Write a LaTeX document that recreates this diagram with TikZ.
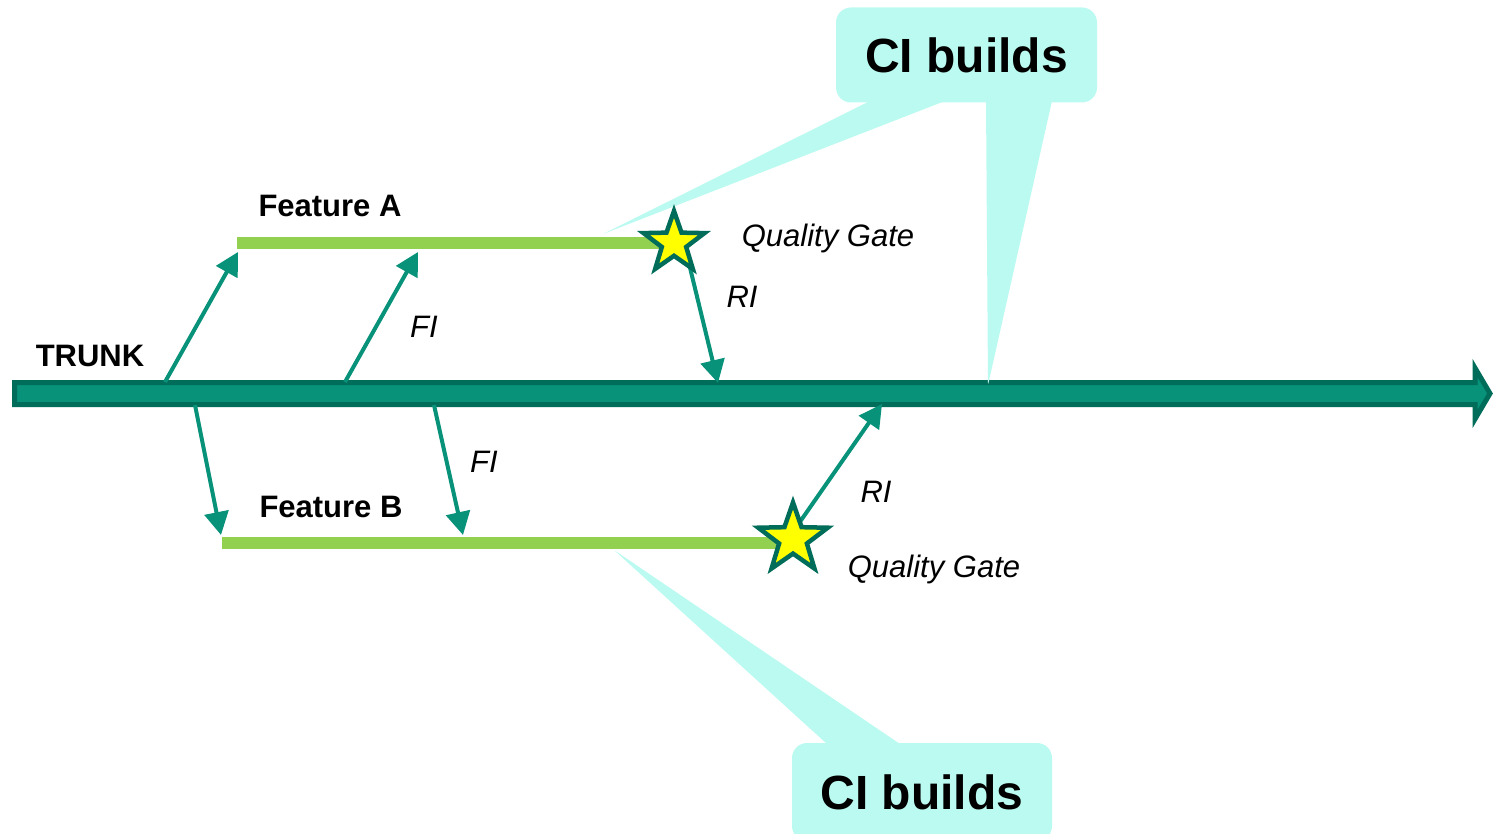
\documentclass[tikz,border=0pt]{standalone}
\usepackage{fontspec}
\setmainfont{Liberation Sans}
\usetikzlibrary{arrows.meta, shapes.geometric}
\definecolor{trunkdark}{RGB}{0,108,90}
\definecolor{trunkfill}{RGB}{8,146,122}
\definecolor{featgreen}{RGB}{146,208,80}
\definecolor{cicyan}{RGB}{187,250,240}
\definecolor{gateyellow}{RGB}{255,255,0}
\pgfdeclarelayer{front}
\pgfsetlayers{main,front}

\tikzset{
  merge/.style={-{Triangle[length=23pt,width=24pt]}, line width=4pt, draw=trunkfill},
  feature/.style={line width=12pt, draw=featgreen},
  gate/.style={star, star points=5, star point ratio=2.5, inner sep=0pt,
    draw=trunkdark, fill=gateyellow, line width=4.5pt},
  cibox/.style={fill=cicyan, rounded corners=15pt, inner sep=0pt,
    font=\fontsize{48}{48}\selectfont\bfseries},
  lbl/.style={font=\fontsize{31}{31}\selectfont\bfseries, anchor=base, inner sep=0pt},
  ilbl/.style={font=\fontsize{31}{31}\selectfont\itshape, anchor=base, inner sep=0pt},
}

\begin{document}
\begin{tikzpicture}[x=1pt, y=-1pt]
  \useasboundingbox (0,0) rectangle (1493,834);

  % Trunk
  \filldraw[fill=trunkfill, draw=trunkdark, line width=5pt]
    (14.5,382.5) -- (1475,382.5) -- (1475,368) -- (1490,393.5) -- (1475,419)
    -- (1475,404.5) -- (14.5,404.5) -- cycle;
  \node[lbl] (trunk) at (90,366) {TRUNK};

  % Points on trunk and features
  \coordinate (forkA) at (165,382);
  \coordinate (fiA trunk) at (345,382);
  \coordinate (riA trunk) at (718,383);
  \coordinate (forkB) at (195,405);
  \coordinate (fiB trunk) at (434,405);
  \coordinate (riB trunk) at (882,404);
  \coordinate (featA w) at (237,243);
  \coordinate (featA e) at (674,243);
  \coordinate (featB w) at (222,543);
  \coordinate (featB e) at (793,543);
  \coordinate (featA in1) at (238,252);
  \coordinate (featA in2) at (418,252);
  \coordinate (featB in1) at (221,535);
  \coordinate (featB in2) at (463,535);

  % Feature branches
  \draw[feature] (featA w) -- (featA e);
  \draw[feature] (featB w) -- (featB e);
  \node[lbl] (featA) at (330,217) {Feature A};
  \node[lbl] (featB) at (331,517) {Feature B};

  % Quality gates
  \begin{pgfonlayer}{front}
    \node[gate, minimum size=64pt] (qgA) at (674,243) {};
    \node[gate, minimum size=73pt] (qgB) at (793,539) {};
  \end{pgfonlayer}

  % FI / RI arrows
  \draw[merge] (forkA) -- (featA in1);
  \draw[merge] (fiA trunk) -- (featA in2);
  \draw[merge] (forkB) -- (featB in1);
  \draw[merge] (fiB trunk) -- (featB in2);
  \draw[merge] ([xshift=10pt]qgA.center) -- (riA trunk);
  \draw[merge] ([xshift=-5pt]qgB.center) -- (riB trunk);

  \node[ilbl] (fiA) at (424,337) {FI};
  \node[ilbl] (fiB) at (484,472) {FI};
  \node[ilbl] (riA) at (742,307) {RI};
  \node[ilbl] (riB) at (876,502) {RI};
  \node[ilbl] (qgA text) at (828,247) {Quality Gate};
  \node[ilbl] (qgB text) at (934,577) {Quality Gate};

  % CI callouts
  \node[cibox, minimum width=261pt, minimum height=95pt] (ciTop) at (966.5,55) {CI builds};
  \node[cibox, minimum width=260pt, minimum height=98pt] (ciBot) at (922,792) {CI builds};
  \coordinate (wedgeA tip) at (603,234);
  \coordinate (wedgeT tip) at (988,385);
  \coordinate (wedgeB tip) at (614,550);
  \fill[cicyan, rounded corners=2pt] (870,101) -- (wedgeA tip) -- (945,101) -- cycle;
  \fill[cicyan, rounded corners=2pt] (986,101) -- (wedgeT tip) -- (1052,101) -- cycle;
  \fill[cicyan, rounded corners=2pt] (827,744) -- (wedgeB tip) -- (900,744) -- cycle;
\end{tikzpicture}
\end{document}
